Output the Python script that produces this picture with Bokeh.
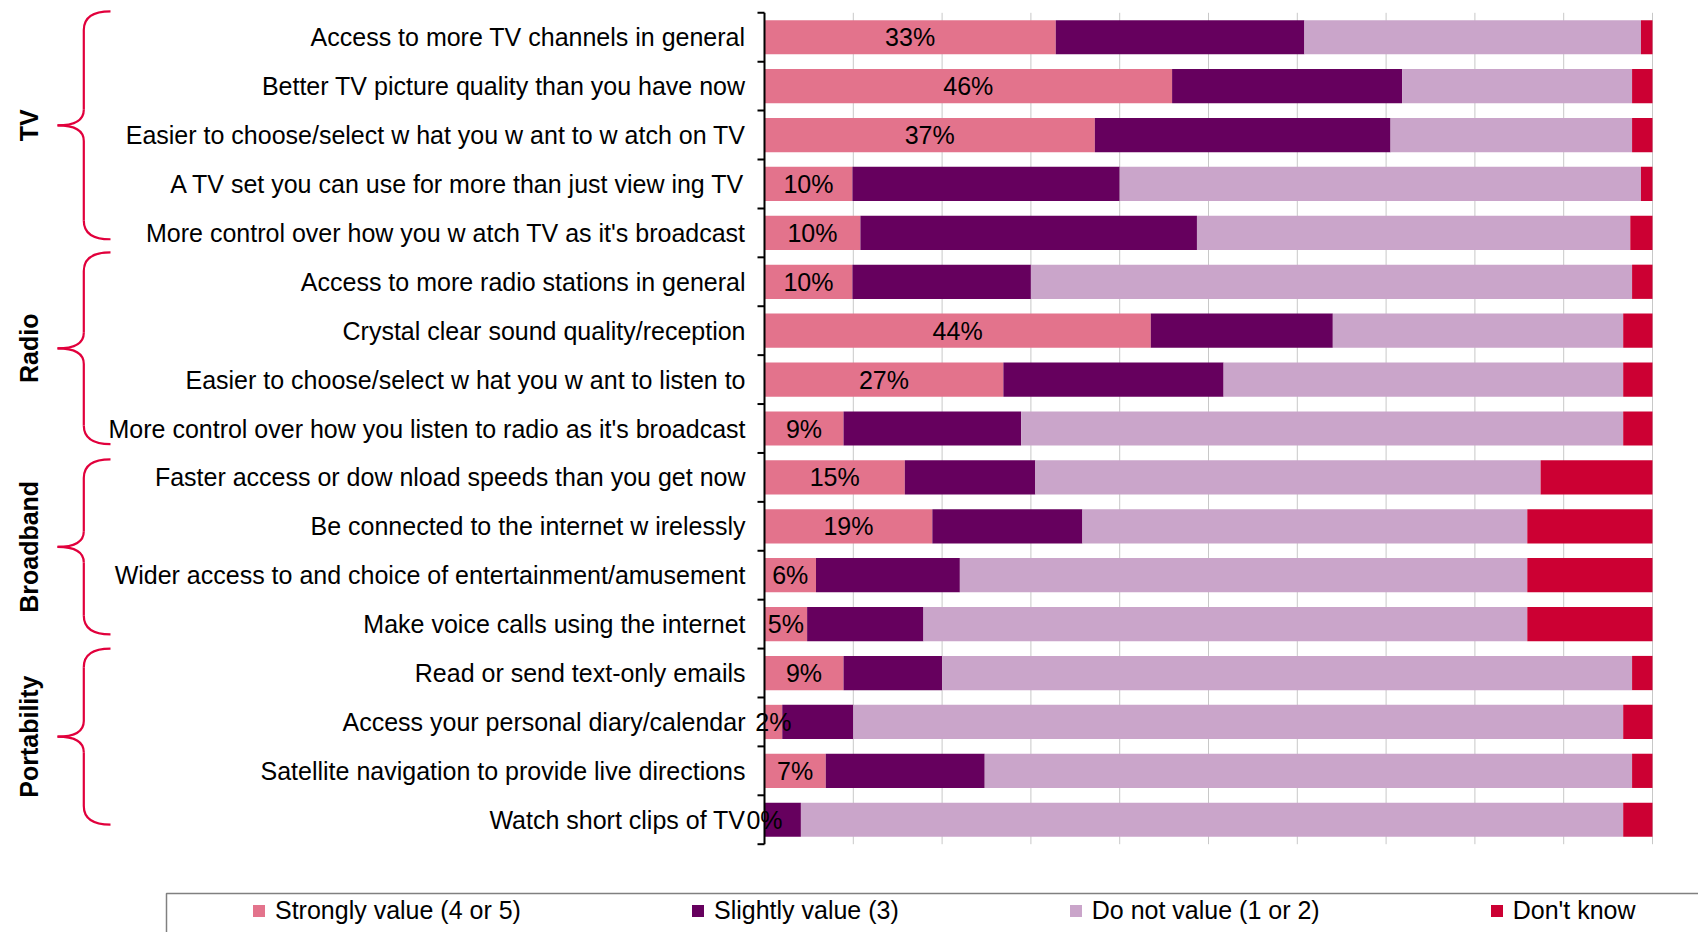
import math
from bokeh.plotting import figure
from bokeh.models import Range1d, ColumnDataSource, Legend, LegendItem
from bokeh.core.properties import value
from bokeh.embed import file_html
from bokeh.resources import INLINE

# ---------------- data ----------------
categories = [
    "Access to more TV channels in general",
    "Better TV picture quality than you have now",
    "Easier to choose/select w hat you w ant to w atch on TV",
    "A TV set you can use for more than just view ing TV",
    "More control over how you w atch TV as it's broadcast",
    "Access to more radio stations in general",
    "Crystal clear sound quality/reception",
    "Easier to choose/select w hat you w ant to listen to",
    "More control over how you listen to radio as it's broadcast",
    "Faster access or dow nload speeds than you get now",
    "Be connected to the internet w irelessly",
    "Wider access to and choice of entertainment/amusement",
    "Make voice calls using the internet",
    "Read or send text-only emails",
    "Access your personal diary/calendar",
    "Satellite navigation to provide live directions",
    "Watch short clips of TV",
]
strong = [32.8, 45.9, 37.2, 9.9, 10.8, 9.9, 43.5, 26.9, 8.9, 15.8, 18.9, 5.8, 4.8, 8.9, 2.0, 6.9, 0.0]
slight = [28.0, 25.9, 33.3, 30.1, 37.9, 20.1, 20.5, 24.8, 20.0, 14.7, 16.9, 16.2, 13.1, 11.1, 8.0, 17.9, 4.1]
notval = [37.9, 25.9, 27.2, 58.7, 48.8, 67.7, 32.7, 45.0, 67.8, 56.9, 50.1, 63.9, 68.0, 77.7, 86.7, 72.9, 92.6]
dontknow = [1.3, 2.3, 2.3, 1.3, 2.5, 2.3, 3.3, 3.3, 3.3, 12.6, 14.1, 14.1, 14.1, 2.3, 3.3, 2.3, 3.3]
strong_labels = ["33%", "46%", "37%", "10%", "10%", "10%", "44%", "27%", "9%",
                 "15%", "19%", "6%", "5%", "9%", "2%", "7%", "0%"]
series_names = ["Strongly value (4 or 5)", "Slightly value (3)", "Do not value (1 or 2)", "Don't know"]
groups = ["TV", "Radio", "Broadband", "Portability"]
group_sizes = [5, 4, 4, 4]
grid_ticks = [10, 20, 30, 40, 50, 60, 70, 80, 90, 100]

# ---------------- layout / style ----------------
W, H = 1698, 932
AX_L, AX_R = 764.0, 1652.0          # pixel x of 0% and 100%
PLOT_T, PLOT_B = 12.3, 843.7        # pixel y of the plot area
n = len(categories)
band = (PLOT_B - PLOT_T) / n
px_per = (AX_R - AX_L) / 100.0
FONT = "Liberation Sans"
FS = "25px"
colors = ["#E3738C", "#66005E", "#CAA5CA", "#CC0033"]
BRACE = "#E1003C"

p = figure(width=W, height=H,
           x_range=Range1d(-AX_L / px_per, (W - AX_L) / px_per),
           y_range=Range1d(start=-0.5 + (H - PLOT_T) / band, end=-0.5 - PLOT_T / band),
           output_backend="svg", toolbar_location=None, min_border=0,
           x_axis_location=None, y_axis_location=None,
           outline_line_color=None, background_fill_color="white",
           border_fill_color="white")
p.grid.grid_line_color = None
p.extra_x_ranges = {"px": Range1d(0, W)}
p.extra_y_ranges = {"py": Range1d(H, 0)}

rows = list(range(n))

# vertical gridlines
p.segment(x0=grid_ticks, y0=[-0.5] * len(grid_ticks), x1=grid_ticks,
          y1=[n - 0.5] * len(grid_ticks), line_color="#C8C8C8", line_width=1)

# stacked bars
src = ColumnDataSource(dict(y=rows, strong=strong, slight=slight,
                            notval=notval, dk=dontknow))
rs = p.hbar_stack(["strong", "slight", "notval", "dk"], y="y", height=0.70,
                  fill_color=colors, line_color=None, source=src)

# value labels on the first segment
lab_src = ColumnDataSource(dict(x=[s / 2.0 for s in strong], y=rows, t=strong_labels))
p.text(x="x", y="y", text="t", source=lab_src, text_align="center",
       text_baseline="middle", text_font=value(FONT), text_font_size=FS,
       text_color="black")

# axis line and ticks at band boundaries
p.segment(x0=[0], y0=[-0.5], x1=[0], y1=[n - 0.5], line_color="black", line_width=2)
bounds = [i - 0.5 for i in range(n + 1)]
p.segment(x0=[AX_L - 7] * len(bounds), y0=bounds, x1=[AX_L] * len(bounds), y1=bounds,
          x_range_name="px", line_color="black", line_width=2)

# category labels
cat_src = ColumnDataSource(dict(x=[AX_L - 19] * n, y=rows, t=categories))
p.text(x="x", y="y", text="t", source=cat_src, x_range_name="px",
       text_align="right", text_baseline="middle", text_font=value(FONT),
       text_font_size=FS, text_color="black")

# group braces
brace_spans = [(-0.53, 4.13), (4.40, 8.32), (8.63, 12.21), (12.50, 16.10)]
XE, XV, XT = 110.0, 83.3, 57.0
RY1, RY2 = 0.38, 0.32
qx0, qy0, qx1, qy1, qcx, qcy = [], [], [], [], [], []
sx0, sy0, sx1, sy1 = [], [], [], []
mids = []
for (top, bot) in brace_spans:
    ym = (top + bot) / 2.0
    mids.append(ym)
    for (a, b, c) in [((XE, top), (XV, top + RY1), (XV, top)),
                      ((XV, ym - RY2), (XT, ym), (XV, ym)),
                      ((XT, ym), (XV, ym + RY2), (XV, ym)),
                      ((XV, bot - RY1), (XE, bot), (XV, bot))]:
        qx0.append(a[0]); qy0.append(a[1]); qx1.append(b[0]); qy1.append(b[1])
        qcx.append(c[0]); qcy.append(c[1])
    sx0 += [XV, XV]; sy0 += [top + RY1, ym + RY2]
    sx1 += [XV, XV]; sy1 += [ym - RY2, bot - RY1]
p.quadratic(x0=qx0, y0=qy0, x1=qx1, y1=qy1, cx=qcx, cy=qcy, x_range_name="px",
            line_color=BRACE, line_width=2.2)
p.segment(x0=sx0, y0=sy0, x1=sx1, y1=sy1, x_range_name="px",
          line_color=BRACE, line_width=2.2)

grp_src = ColumnDataSource(dict(x=[28] * len(groups), y=mids, t=groups))
p.text(x="x", y="y", text="t", source=grp_src, x_range_name="px", angle=math.pi / 2,
       text_align="center", text_baseline="middle", text_font=value(FONT),
       text_font_size=FS, text_font_style="bold", text_color="black")

# legend box (left and top edges)
p.line(x=[166, 166, W + 20], y=[H + 20, 893, 893], x_range_name="px",
       y_range_name="py", line_color="#808080", line_width=1.5)

legend = Legend(items=[LegendItem(label=nm, renderers=[r]) for nm, r in zip(series_names, rs)],
                orientation="horizontal", location=(251, 7), spacing=169,
                glyph_width=15, glyph_height=15, label_standoff=9,
                label_text_font=FONT, label_text_font_size=FS,
                label_text_color="black", padding=0, margin=0,
                border_line_color=None, background_fill_alpha=0)
p.add_layout(legend)

open("out.html", "w").write(file_html(p, INLINE))
